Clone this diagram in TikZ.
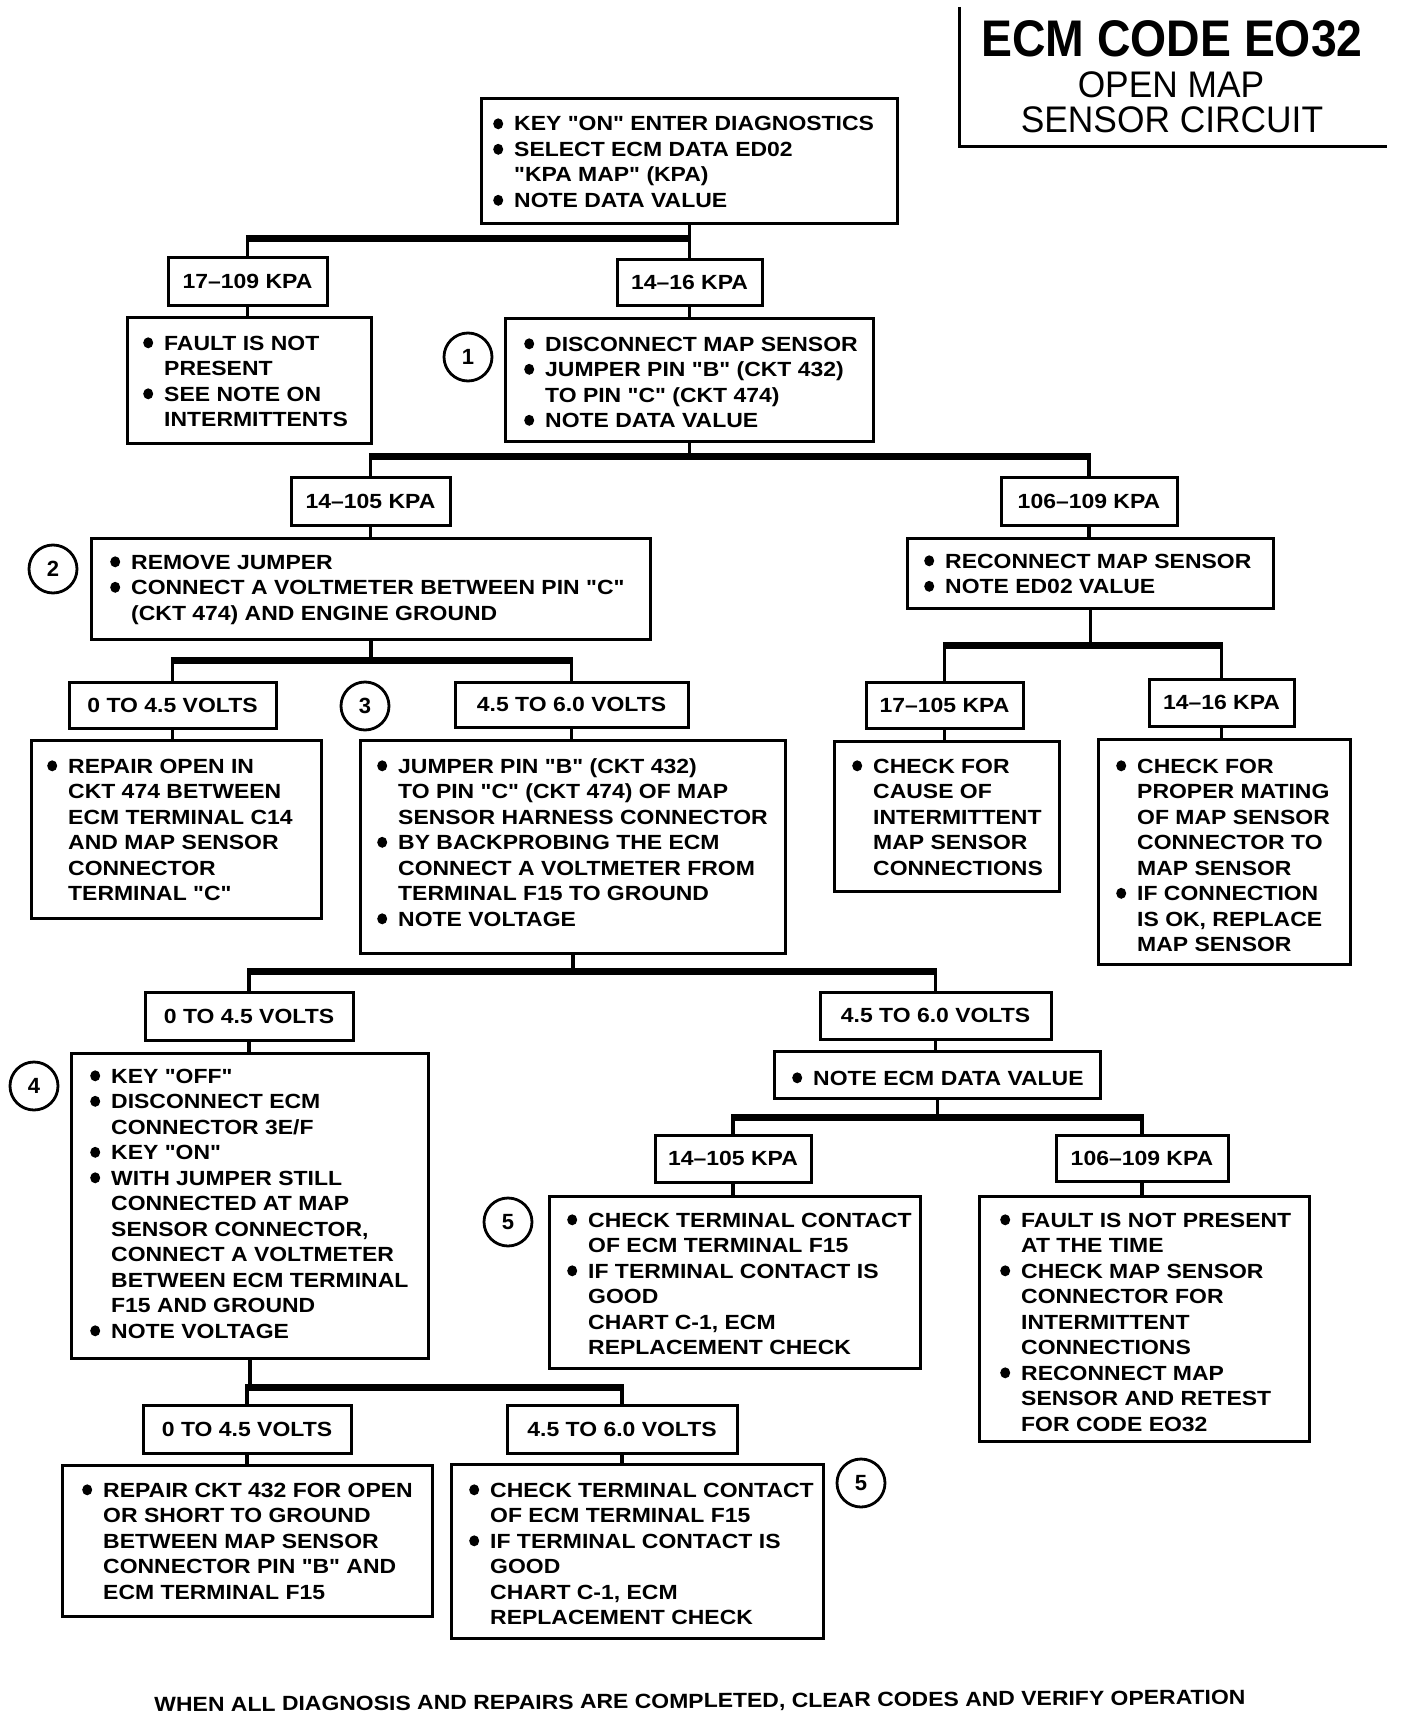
\documentclass[tikz,border=0pt]{standalone}
\usepackage{fontspec}
\setmainfont{Liberation Sans}
\newfontfamily\bodyfont[FakeStretch=1.12]{Liberation Sans}
\newfontfamily\titlefont[FakeStretch=0.9]{Liberation Sans}
\newfontfamily\subfont[FakeStretch=0.955]{Liberation Sans}
\newcommand\bodyfnt{\bodyfont\bfseries\fontsize{20.5pt}{25.5pt}\selectfont}
\newcommand\bul{\tikz[baseline=0pt]\fill (0pt,7.2pt) ellipse [x radius=5pt, y radius=5.5pt];}
\newcommand\B{\makebox[21pt][l]{\bul}}
\newcommand\bx[1]{\begin{tabular}[t]{@{}l@{}l@{}}#1\end{tabular}}
\tikzset{
  box/.style={draw, line width=3pt, inner sep=0pt, anchor=north west},
  lab/.style={draw, line width=3pt, inner sep=0pt, font=\bodyfnt, text height=14.5pt, text depth=0pt},
  txt/.style={anchor=base west, inner sep=0pt, font=\bodyfnt},
  num/.style={circle, draw, line width=2.8pt, minimum size=48pt, inner sep=0pt, font=\bfseries\fontsize{22pt}{22pt}\selectfont},
  vline/.style={line width=3.5pt},
  hbar/.style={line width=7pt, shorten <=-1.75pt, shorten >=-1.75pt},
  frame/.style={line width=3pt}
}
\newcommand\fork[4]{%
  \draw[vline] (#1.south) -- (#1.south |- #2);
  \draw[hbar] (#3.north |- #2) -- (#4.north |- #2);
  \draw[vline] (#3.north |- #2) -- (#3.north);
  \draw[vline] (#4.north |- #2) -- (#4.north);}
\newcommand\link[2]{\draw[vline] (#1.south) -- (#1.south |- #2.north);}
\begin{document}
\begin{tikzpicture}[x=1pt,y=-1pt]
\useasboundingbox[fill=white] (0,0) rectangle (1408,1720);

% title
\draw[frame] (959.5,7) -- (959.5,147) -- (1387,147);
\node[anchor=base, inner sep=0pt] (title) at (1172,57) {\titlefont\bfseries\fontsize{51.5pt}{51.5pt}\selectfont ECM CODE EO32};
\node[anchor=base, inner sep=0pt] (sub1) at (1171,98) {\subfont\fontsize{37pt}{37pt}\selectfont OPEN MAP};
\node[anchor=base, inner sep=0pt] (sub2) at (1172,133) {\subfont\fontsize{37pt}{37pt}\selectfont SENSOR CIRCUIT};

% boxes
\node[box, minimum width=416pt, minimum height=125pt] (top) at (480,97) {};
\node[txt] (ttop) at (493,131) {\bx{\B & KEY "ON" ENTER DIAGNOSTICS\\ \B & SELECT ECM DATA ED02\\ & "KPA MAP" (KPA)\\ \B & NOTE DATA VALUE}};

\node[lab, minimum width=159pt, minimum height=47pt] (k17) at (247.5,281.5) {17–109 KPA};
\node[lab, minimum width=145pt, minimum height=45pt] (k14) at (689.5,282.5) {14–16 KPA};

\node[box, minimum width=244pt, minimum height=126pt] (fault1) at (126,316) {};
\node[txt] (tfault1) at (143,350) {\bx{\B & FAULT IS NOT\\ & PRESENT\\ \B & SEE NOTE ON\\ & INTERMITTENTS}};

\node[box, minimum width=368pt, minimum height=123pt] (box1) at (504,317) {};
\node[txt] (tbox1) at (524,351) {\bx{\B & DISCONNECT MAP SENSOR\\ \B & JUMPER PIN "B" (CKT 432)\\ & TO PIN "C" (CKT 474)\\ \B & NOTE DATA VALUE}};
\node[num] (c1) at (468,357) {1};

\node[lab, minimum width=159pt, minimum height=48pt] (k14105) at (370.5,501) {14–105 KPA};
\node[lab, minimum width=176pt, minimum height=48pt] (k106) at (1089,501) {106–109 KPA};

\node[box, minimum width=559pt, minimum height=101pt] (box2) at (90,537) {};
\node[txt] (tbox2) at (110,569) {\bx{\B & REMOVE JUMPER\\ \B & CONNECT A VOLTMETER BETWEEN PIN "C"\\ & (CKT 474) AND ENGINE GROUND}};
\node[num] (c2) at (53,569) {2};

\node[box, minimum width=366pt, minimum height=70pt] (recon) at (906,537) {};
\node[txt] (trecon) at (924,568) {\bx{\B & RECONNECT MAP SENSOR\\ \B & NOTE ED02 VALUE}};

\node[lab, minimum width=207pt, minimum height=46pt] (v045a) at (172.5,705) {0 TO 4.5 VOLTS};
\node[lab, minimum width=233pt, minimum height=45pt] (v456a) at (571.5,704.5) {4.5 TO 6.0 VOLTS};
\node[num] (c3) at (365,706) {3};
\node[lab, minimum width=157pt, minimum height=46pt] (k17105) at (944.5,705) {17–105 KPA};
\node[lab, minimum width=145pt, minimum height=47pt] (k1416b) at (1221.5,702.5) {14–16 KPA};

\node[box, minimum width=290pt, minimum height=178pt] (repopen) at (30,739) {};
\node[txt] (trepopen) at (47,773) {\bx{\B & REPAIR OPEN IN\\ & CKT 474 BETWEEN\\ & ECM TERMINAL C14\\ & AND MAP SENSOR\\ & CONNECTOR\\ & TERMINAL "C"}};

\node[box, minimum width=425pt, minimum height=213pt] (jumper) at (359,739) {};
\node[txt] (tjumper) at (377,773) {\bx{\B & JUMPER PIN "B" (CKT 432)\\ & TO PIN "C" (CKT 474) OF MAP\\ & SENSOR HARNESS CONNECTOR\\ \B & BY BACKPROBING THE ECM\\ & CONNECT A VOLTMETER FROM\\ & TERMINAL F15 TO GROUND\\ \B & NOTE VOLTAGE}};

\node[box, minimum width=225pt, minimum height=150pt] (cause) at (833,740) {};
\node[txt] (tcause) at (852,773) {\bx{\B & CHECK FOR\\ & CAUSE OF\\ & INTERMITTENT\\ & MAP SENSOR\\ & CONNECTIONS}};

\node[box, minimum width=252pt, minimum height=225pt] (mating) at (1097,738) {};
\node[txt] (tmating) at (1116,773) {\bx{\B & CHECK FOR\\ & PROPER MATING\\ & OF MAP SENSOR\\ & CONNECTOR TO\\ & MAP SENSOR\\ \B & IF CONNECTION\\ & IS OK, REPLACE\\ & MAP SENSOR}};

\node[lab, minimum width=208pt, minimum height=48pt] (v045b) at (249,1016) {0 TO 4.5 VOLTS};
\node[lab, minimum width=231pt, minimum height=47pt] (v456b) at (935.5,1015.5) {4.5 TO 6.0 VOLTS};

\node[box, minimum width=357pt, minimum height=305pt] (box4) at (70,1052) {};
\node[txt] (tbox4) at (90,1083) {\bx{\B & KEY "OFF"\\ \B & DISCONNECT ECM\\ & CONNECTOR 3E/F\\ \B & KEY "ON"\\ \B & WITH JUMPER STILL\\ & CONNECTED AT MAP\\ & SENSOR CONNECTOR,\\ & CONNECT A VOLTMETER\\ & BETWEEN ECM TERMINAL\\ & F15 AND GROUND\\ \B & NOTE VOLTAGE}};
\node[num] (c4) at (34,1086) {4};

\node[box, minimum width=326pt, minimum height=47pt] (noteecm) at (773,1050) {};
\node[txt] (tnoteecm) at (792,1085) {\bx{\B & NOTE ECM DATA VALUE}};

\node[lab, minimum width=156pt, minimum height=47pt] (k14105b) at (733,1158.5) {14–105 KPA};
\node[lab, minimum width=172pt, minimum height=46pt] (k106b) at (1142,1158) {106–109 KPA};

\node[box, minimum width=371pt, minimum height=172pt] (box5a) at (548,1195) {};
\node[txt] (tbox5a) at (567,1227) {\bx{\B & CHECK TERMINAL CONTACT\\ & OF ECM TERMINAL F15\\ \B & IF TERMINAL CONTACT IS\\ & GOOD\\ & CHART C-1, ECM\\ & REPLACEMENT CHECK}};
\node[num] (c5a) at (508,1222) {5};

\node[box, minimum width=330pt, minimum height=245pt] (fault2) at (978,1195) {};
\node[txt] (tfault2) at (1000,1227) {\bx{\B & FAULT IS NOT PRESENT\\ & AT THE TIME\\ \B & CHECK MAP SENSOR\\ & CONNECTOR FOR\\ & INTERMITTENT\\ & CONNECTIONS\\ \B & RECONNECT MAP\\ & SENSOR AND RETEST\\ & FOR CODE EO32}};

\node[lab, minimum width=208pt, minimum height=48pt] (v045c) at (247,1429) {0 TO 4.5 VOLTS};
\node[lab, minimum width=230pt, minimum height=48pt] (v456c) at (622,1429) {4.5 TO 6.0 VOLTS};

\node[box, minimum width=370pt, minimum height=151pt] (rep432) at (61,1464) {};
\node[txt] (trep432) at (82,1497) {\bx{\B & REPAIR CKT 432 FOR OPEN\\ & OR SHORT TO GROUND\\ & BETWEEN MAP SENSOR\\ & CONNECTOR PIN "B" AND\\ & ECM TERMINAL F15}};

\node[box, minimum width=372pt, minimum height=174pt] (box5b) at (450,1463) {};
\node[txt] (tbox5b) at (469,1497) {\bx{\B & CHECK TERMINAL CONTACT\\ & OF ECM TERMINAL F15\\ \B & IF TERMINAL CONTACT IS\\ & GOOD\\ & CHART C-1, ECM\\ & REPLACEMENT CHECK}};
\node[num] (c5b) at (861,1483) {5};

\node[anchor=base, inner sep=0pt, font=\bodyfnt, rotate=0.4] (foot) at (700,1708) {WHEN ALL DIAGNOSIS AND REPAIRS ARE COMPLETED, CLEAR CODES AND VERIFY OPERATION};

% connectors
\coordinate (bus1) at (0,239);
\coordinate (bus2) at (0,456);
\coordinate (bus3) at (0,660);
\coordinate (bus4) at (0,645);
\coordinate (bus5) at (0,971);
\coordinate (bus6) at (0,1117);
\coordinate (bus7) at (0,1387);
\fork{top}{bus1}{k17}{k14}
\link{k17}{fault1}
\link{k14}{box1}
\fork{box1}{bus2}{k14105}{k106}
\link{k14105}{box2}
\link{k106}{recon}
\fork{box2}{bus3}{v045a}{v456a}
\link{v045a}{repopen}
\link{v456a}{jumper}
\fork{recon}{bus4}{k17105}{k1416b}
\link{k17105}{cause}
\link{k1416b}{mating}
\fork{jumper}{bus5}{v045b}{v456b}
\link{v045b}{box4}
\link{v456b}{noteecm}
\fork{noteecm}{bus6}{k14105b}{k106b}
\link{k14105b}{box5a}
\link{k106b}{fault2}
\fork{box4}{bus7}{v045c}{v456c}
\link{v045c}{rep432}
\link{v456c}{box5b}
\end{tikzpicture}
\end{document}
